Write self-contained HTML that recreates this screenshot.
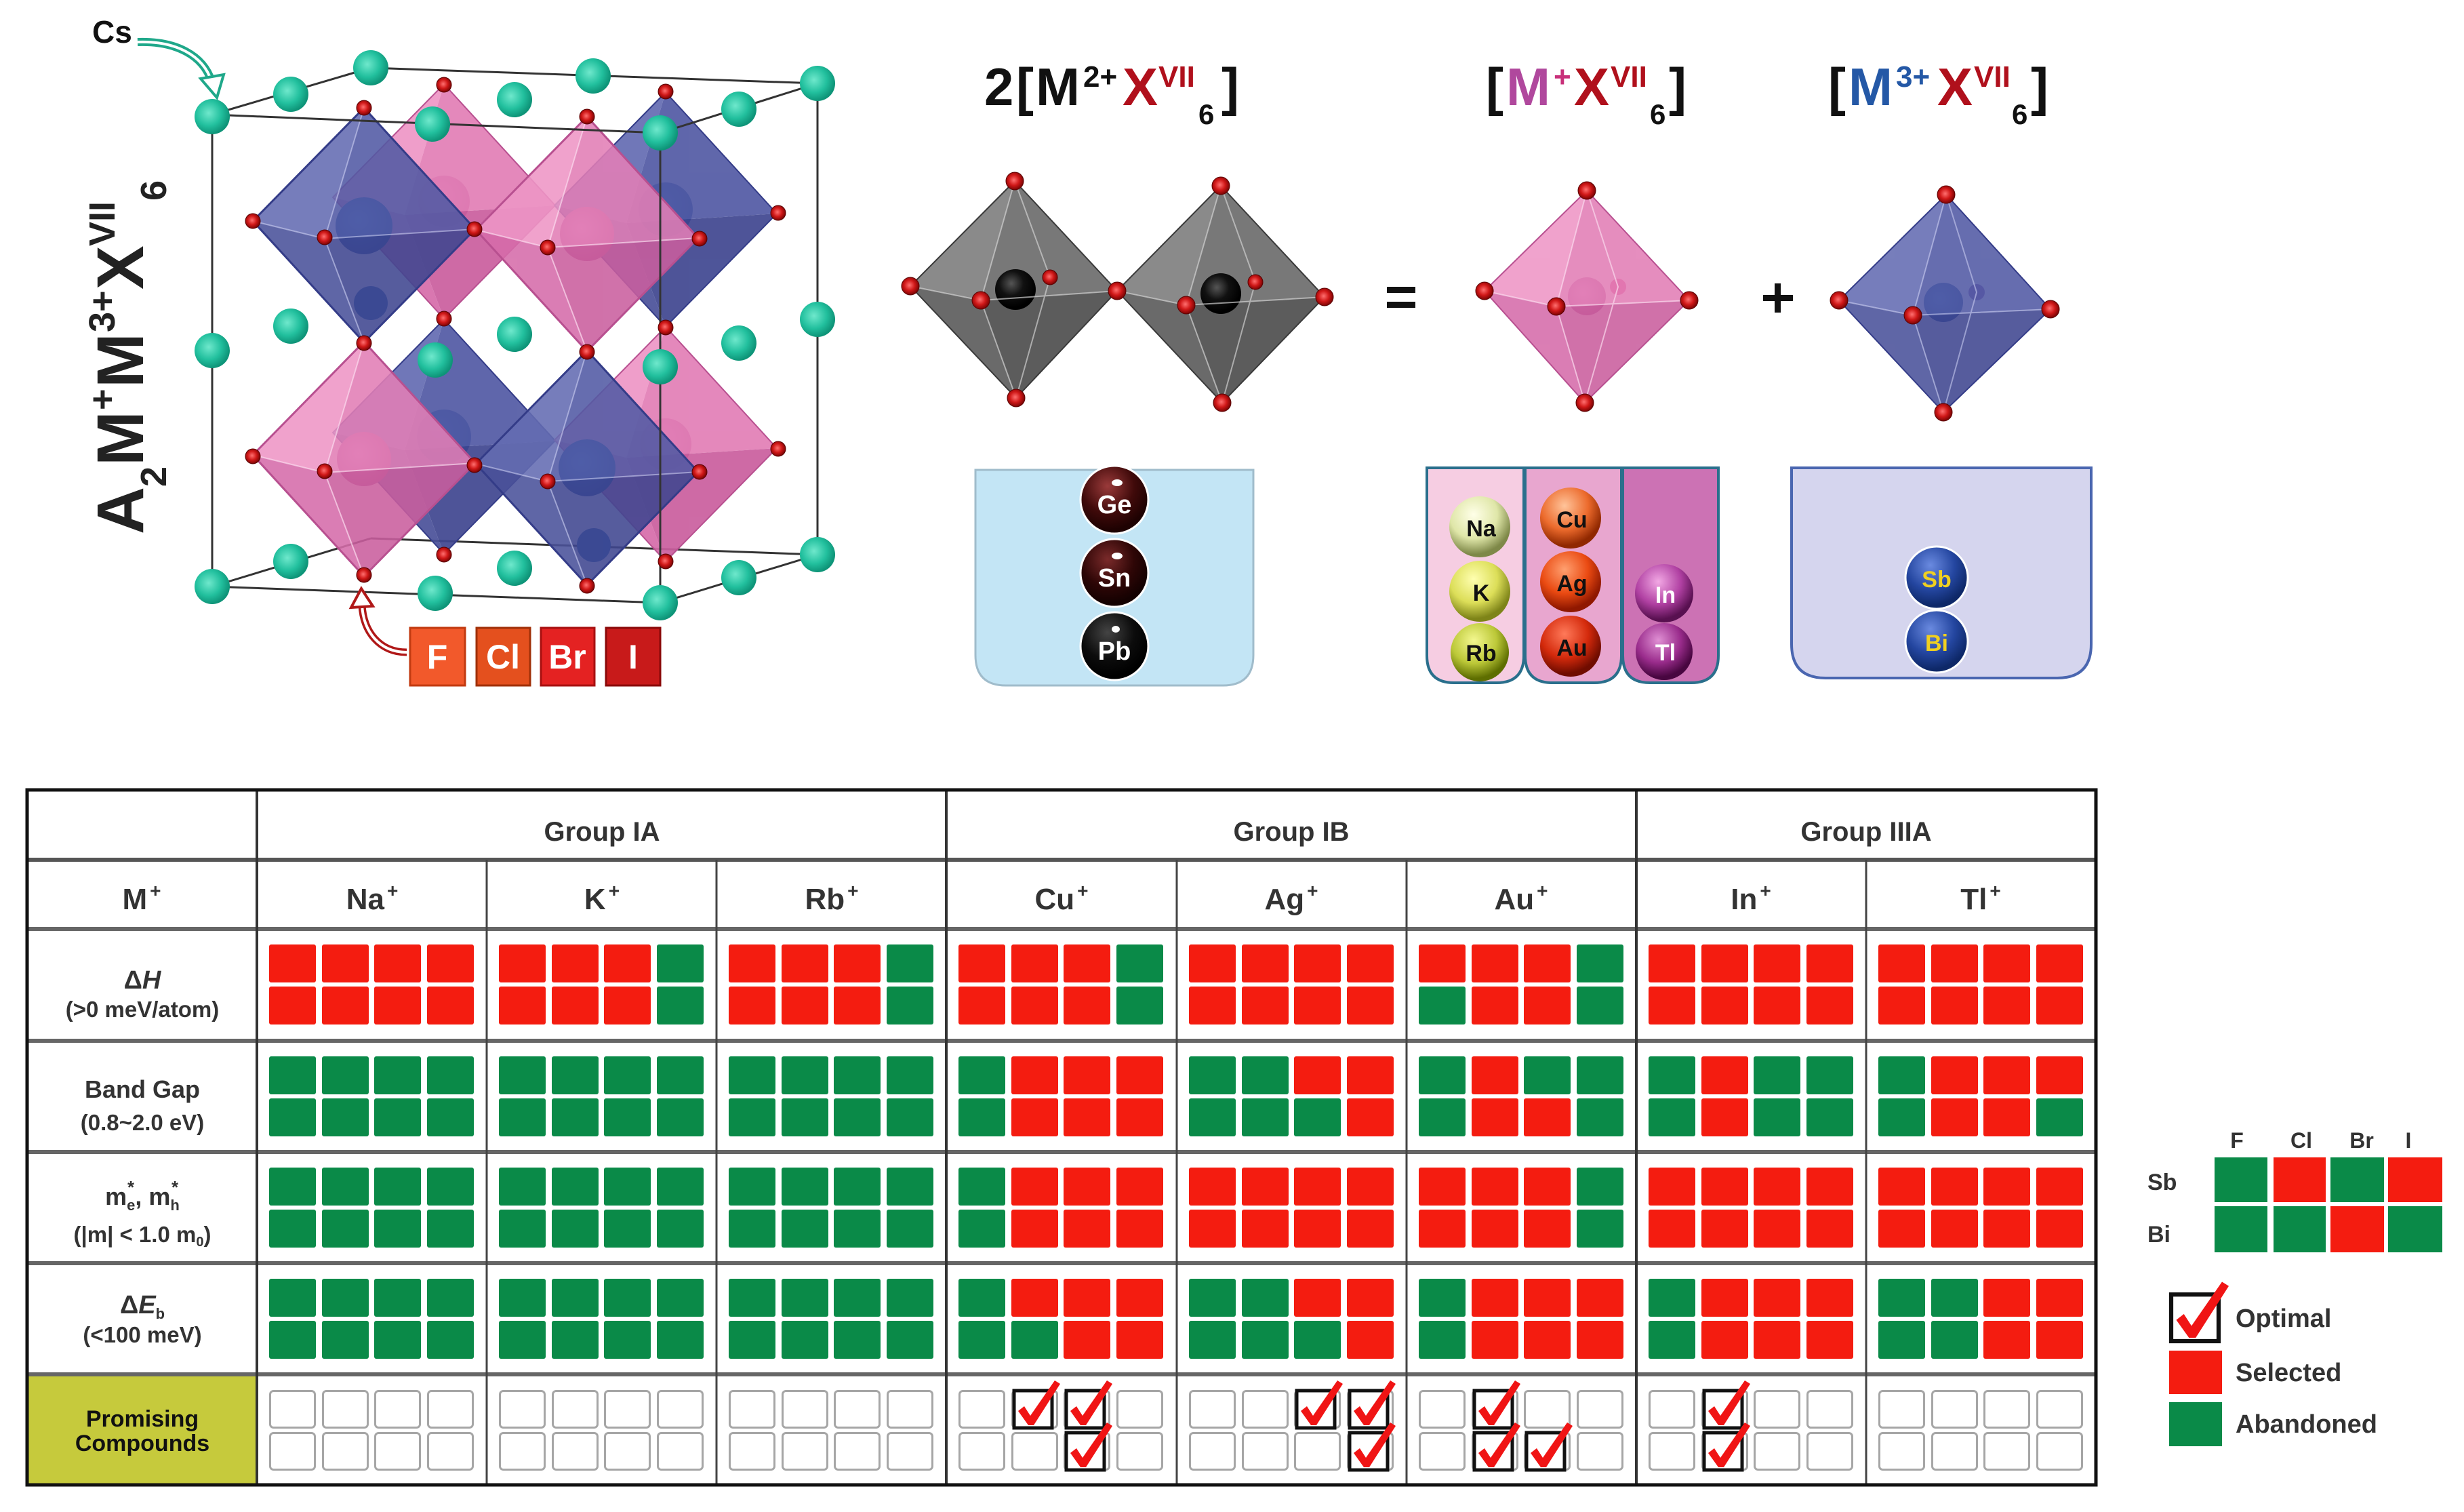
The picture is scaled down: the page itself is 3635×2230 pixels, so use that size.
<!DOCTYPE html>
<html><head><meta charset="utf-8"><style>
html,body{margin:0;padding:0;background:#fff;}
svg{display:block;}
</style></head><body>
<svg xmlns="http://www.w3.org/2000/svg" width="3635" height="2230" viewBox="0 0 3635 2230" font-family="'Liberation Sans', Arial, sans-serif">
<defs>
<radialGradient id="gTeal" cx="40%" cy="40%" r="60%"><stop offset="0" stop-color="#6fe8cc"/><stop offset="0.6" stop-color="#22c09e"/><stop offset="1" stop-color="#0e9478"/></radialGradient>
<radialGradient id="gRed" cx="45%" cy="45%" r="60%"><stop offset="0" stop-color="#ff7070"/><stop offset="0.5" stop-color="#d01818"/><stop offset="1" stop-color="#6a0000"/></radialGradient>
<radialGradient id="gBlueS" cx="40%" cy="40%" r="60%"><stop offset="0" stop-color="#3a78c8"/><stop offset="1" stop-color="#1a4a98"/></radialGradient>
<radialGradient id="gPinkS" cx="40%" cy="40%" r="60%"><stop offset="0" stop-color="#e490c8"/><stop offset="1" stop-color="#b0508e"/></radialGradient>
<radialGradient id="gBlack" cx="40%" cy="35%" r="60%"><stop offset="0" stop-color="#555"/><stop offset="0.5" stop-color="#111"/><stop offset="1" stop-color="#000"/></radialGradient>
<radialGradient id="gGe" cx="40%" cy="30%" r="65%"><stop offset="0" stop-color="#9a3a3a"/><stop offset="0.6" stop-color="#400a0a"/><stop offset="1" stop-color="#1e0202"/></radialGradient>
<radialGradient id="gSn" cx="40%" cy="30%" r="65%"><stop offset="0" stop-color="#7a2a2a"/><stop offset="0.6" stop-color="#2e0606"/><stop offset="1" stop-color="#140101"/></radialGradient>
<radialGradient id="gPb" cx="40%" cy="30%" r="65%"><stop offset="0" stop-color="#444"/><stop offset="0.6" stop-color="#0c0c0c"/><stop offset="1" stop-color="#000"/></radialGradient>
<radialGradient id="gNa" cx="40%" cy="30%" r="65%"><stop offset="0" stop-color="#ffffe8"/><stop offset="0.6" stop-color="#dfe6a8"/><stop offset="1" stop-color="#7e8848"/></radialGradient>
<radialGradient id="gK" cx="40%" cy="30%" r="65%"><stop offset="0" stop-color="#ffffb0"/><stop offset="0.6" stop-color="#dcde58"/><stop offset="1" stop-color="#7e8418"/></radialGradient>
<radialGradient id="gRb" cx="40%" cy="30%" r="65%"><stop offset="0" stop-color="#f4f890"/><stop offset="0.6" stop-color="#bcc838"/><stop offset="1" stop-color="#5e6e00"/></radialGradient>
<radialGradient id="gCu" cx="40%" cy="30%" r="65%"><stop offset="0" stop-color="#ffc49a"/><stop offset="0.6" stop-color="#ec6a2c"/><stop offset="1" stop-color="#902800"/></radialGradient>
<radialGradient id="gAg" cx="40%" cy="30%" r="65%"><stop offset="0" stop-color="#ffa070"/><stop offset="0.6" stop-color="#ea4a12"/><stop offset="1" stop-color="#901800"/></radialGradient>
<radialGradient id="gAu" cx="40%" cy="30%" r="65%"><stop offset="0" stop-color="#ff7a5a"/><stop offset="0.6" stop-color="#d42a0c"/><stop offset="1" stop-color="#700c00"/></radialGradient>
<radialGradient id="gIn" cx="40%" cy="30%" r="65%"><stop offset="0" stop-color="#f2a8e4"/><stop offset="0.6" stop-color="#b040a2"/><stop offset="1" stop-color="#581050"/></radialGradient>
<radialGradient id="gTl" cx="40%" cy="30%" r="65%"><stop offset="0" stop-color="#e090d4"/><stop offset="0.6" stop-color="#9a2c8c"/><stop offset="1" stop-color="#480640"/></radialGradient>
<radialGradient id="gSb" cx="40%" cy="30%" r="65%"><stop offset="0" stop-color="#6a8ae0"/><stop offset="0.6" stop-color="#2446a0"/><stop offset="1" stop-color="#0e2868"/></radialGradient>

<rect id="R" width="69" height="56" rx="3" fill="#f41c10"/>
<rect id="G" width="69" height="56" rx="3" fill="#0a8a48"/>
<rect id="E" x="1.5" y="1.5" width="66" height="54" rx="5" fill="#fff" stroke="#a6a6a6" stroke-width="3"/>
<g id="ck"><rect x="4" y="1" width="56" height="55" fill="#fff" stroke="#111" stroke-width="5"/><polygon points="10,31 19,24 28,38 64,-14 72,-9 33,52 25,52" fill="#f01414"/></g>

<g id="AR"><use href="#R" x="18" y="23"/><use href="#R" x="96" y="23"/><use href="#R" x="173" y="23"/><use href="#R" x="251" y="23"/><use href="#R" x="18" y="85"/><use href="#R" x="96" y="85"/><use href="#R" x="173" y="85"/><use href="#R" x="251" y="85"/></g>
<g id="AG"><use href="#G" x="18" y="23"/><use href="#G" x="96" y="23"/><use href="#G" x="173" y="23"/><use href="#G" x="251" y="23"/><use href="#G" x="18" y="85"/><use href="#G" x="96" y="85"/><use href="#G" x="173" y="85"/><use href="#G" x="251" y="85"/></g>
<g id="AE"><use href="#E" x="18" y="23"/><use href="#E" x="96" y="23"/><use href="#E" x="173" y="23"/><use href="#E" x="251" y="23"/><use href="#E" x="18" y="85"/><use href="#E" x="96" y="85"/><use href="#E" x="173" y="85"/><use href="#E" x="251" y="85"/></g>
<g id="P1"><use href="#R" x="18" y="23"/><use href="#R" x="96" y="23"/><use href="#R" x="173" y="23"/><use href="#G" x="251" y="23"/><use href="#R" x="18" y="85"/><use href="#R" x="96" y="85"/><use href="#R" x="173" y="85"/><use href="#G" x="251" y="85"/></g>
<g id="P2"><use href="#R" x="18" y="23"/><use href="#R" x="96" y="23"/><use href="#R" x="173" y="23"/><use href="#G" x="251" y="23"/><use href="#G" x="18" y="85"/><use href="#R" x="96" y="85"/><use href="#R" x="173" y="85"/><use href="#G" x="251" y="85"/></g>
<g id="P3"><use href="#G" x="18" y="23"/><use href="#R" x="96" y="23"/><use href="#R" x="173" y="23"/><use href="#R" x="251" y="23"/><use href="#G" x="18" y="85"/><use href="#R" x="96" y="85"/><use href="#R" x="173" y="85"/><use href="#R" x="251" y="85"/></g>
<g id="P4"><use href="#G" x="18" y="23"/><use href="#G" x="96" y="23"/><use href="#R" x="173" y="23"/><use href="#R" x="251" y="23"/><use href="#G" x="18" y="85"/><use href="#G" x="96" y="85"/><use href="#G" x="173" y="85"/><use href="#R" x="251" y="85"/></g>
<g id="P5"><use href="#G" x="18" y="23"/><use href="#R" x="96" y="23"/><use href="#G" x="173" y="23"/><use href="#G" x="251" y="23"/><use href="#G" x="18" y="85"/><use href="#R" x="96" y="85"/><use href="#R" x="173" y="85"/><use href="#G" x="251" y="85"/></g>
<g id="P6"><use href="#G" x="18" y="23"/><use href="#R" x="96" y="23"/><use href="#G" x="173" y="23"/><use href="#G" x="251" y="23"/><use href="#G" x="18" y="85"/><use href="#R" x="96" y="85"/><use href="#G" x="173" y="85"/><use href="#G" x="251" y="85"/></g>
<g id="P7"><use href="#G" x="18" y="23"/><use href="#R" x="96" y="23"/><use href="#R" x="173" y="23"/><use href="#R" x="251" y="23"/><use href="#G" x="18" y="85"/><use href="#R" x="96" y="85"/><use href="#R" x="173" y="85"/><use href="#G" x="251" y="85"/></g>
<g id="P8"><use href="#G" x="18" y="23"/><use href="#R" x="96" y="23"/><use href="#R" x="173" y="23"/><use href="#R" x="251" y="23"/><use href="#G" x="18" y="85"/><use href="#G" x="96" y="85"/><use href="#R" x="173" y="85"/><use href="#R" x="251" y="85"/></g>
<g id="P9"><use href="#G" x="18" y="23"/><use href="#G" x="96" y="23"/><use href="#R" x="173" y="23"/><use href="#R" x="251" y="23"/><use href="#G" x="18" y="85"/><use href="#G" x="96" y="85"/><use href="#R" x="173" y="85"/><use href="#R" x="251" y="85"/></g>
</defs>

<rect width="3635" height="2230" fill="#fff"/>

<!-- ================= CRYSTAL STRUCTURE ================= -->
<g stroke="#333" stroke-width="3" fill="none">
<line x1="547" y1="794" x2="1206" y2="818"/>
<line x1="313" y1="865" x2="547" y2="794"/>
</g>

<!-- back octahedra -->
<g>
<circle cx="655" cy="297" r="38" fill="url(#gPinkS)"/>
<g opacity="0.92"><polygon points="655,124 491,291 597,317" fill="#ee96c6"/><polygon points="655,124 597,317 819,303" fill="#e27eb6"/><polygon points="655,470 491,291 597,317" fill="#d66caa"/><polygon points="655,470 597,317 819,303" fill="#ca5e9e"/></g>
<polygon points="655,124 819,303 655,470 491,291" fill="none" stroke="#b85090" stroke-width="2"/>
</g>
<g>
<circle cx="982" cy="309" r="40" fill="url(#gBlueS)"/>
<g opacity="0.92"><polygon points="982,136 818,303 924,329" fill="#646cb2"/><polygon points="982,136 924,329 1146,315" fill="#525aa4"/><polygon points="982,482 818,303 924,329" fill="#4a519a"/><polygon points="982,482 924,329 1146,315" fill="#3f4690"/></g>
<polygon points="982,136 1146,315 982,482 818,303" fill="none" stroke="#343c88" stroke-width="2"/>
</g>
<g>
<circle cx="655" cy="644" r="40" fill="url(#gBlueS)"/>
<g opacity="0.92"><polygon points="655,471 491,638 597,664" fill="#646cb2"/><polygon points="655,471 597,664 819,650" fill="#525aa4"/><polygon points="655,817 491,638 597,664" fill="#4a519a"/><polygon points="655,817 597,664 819,650" fill="#3f4690"/></g>
<polygon points="655,471 819,650 655,817 491,638" fill="none" stroke="#343c88" stroke-width="2"/>
</g>
<g>
<circle cx="982" cy="655" r="38" fill="url(#gPinkS)"/>
<g opacity="0.92"><polygon points="982,482 818,649 924,675" fill="#ee96c6"/><polygon points="982,482 924,675 1146,661" fill="#e27eb6"/><polygon points="982,828 818,649 924,675" fill="#d66caa"/><polygon points="982,828 924,675 1146,661" fill="#ca5e9e"/></g>
<polygon points="982,482 1146,661 982,828 818,649" fill="none" stroke="#b85090" stroke-width="2"/>
</g>

<!-- front octahedra -->
<g>
<circle cx="537" cy="333" r="42" fill="url(#gBlueS)"/>
<circle cx="547" cy="447" r="25" fill="#1e64b0"/>
<g opacity="0.88"><polygon points="537,159 373,326 479,352" fill="#646cb2"/><polygon points="537,159 479,352 701,338" fill="#525aa4"/><polygon points="537,505 373,326 479,352" fill="#4a519a"/><polygon points="537,505 479,352 701,338" fill="#3f4690"/></g>
<polygon points="537,159 701,338 537,505 373,326" fill="none" stroke="#343c88" stroke-width="3"/>
<path d="M537,159 L479,352 L537,505 M373,326 L479,352 L701,338" stroke="#c8ccf0" stroke-opacity="0.6" stroke-width="2" fill="none"/>
</g>
<g>
<circle cx="866" cy="345" r="40" fill="url(#gPinkS)"/>
<g opacity="0.88"><polygon points="866,172 702,339 808,365" fill="#ee96c6"/><polygon points="866,172 808,365 1030,351" fill="#e27eb6"/><polygon points="866,518 702,339 808,365" fill="#d66caa"/><polygon points="866,518 808,365 1030,351" fill="#ca5e9e"/></g>
<polygon points="866,172 1030,351 866,518 702,339" fill="none" stroke="#b85090" stroke-width="3"/>
<path d="M866,172 L808,365 L866,518 M702,339 L808,365 L1030,351" stroke="#fbd8ec" stroke-opacity="0.7" stroke-width="2" fill="none"/>
</g>
<g>
<circle cx="537" cy="677" r="40" fill="url(#gPinkS)"/>
<g opacity="0.88"><polygon points="537,504 373,671 479,697" fill="#ee96c6"/><polygon points="537,504 479,697 701,683" fill="#e27eb6"/><polygon points="537,850 373,671 479,697" fill="#d66caa"/><polygon points="537,850 479,697 701,683" fill="#ca5e9e"/></g>
<polygon points="537,504 701,683 537,850 373,671" fill="none" stroke="#b85090" stroke-width="3"/>
<path d="M537,504 L479,697 L537,850 M373,671 L479,697 L701,683" stroke="#fbd8ec" stroke-opacity="0.7" stroke-width="2" fill="none"/>
</g>
<g>
<circle cx="866" cy="690" r="42" fill="url(#gBlueS)"/>
<circle cx="876" cy="804" r="25" fill="#1e64b0"/>
<g opacity="0.88"><polygon points="866,517 702,684 808,710" fill="#646cb2"/><polygon points="866,517 808,710 1030,696" fill="#525aa4"/><polygon points="866,863 702,684 808,710" fill="#4a519a"/><polygon points="866,863 808,710 1030,696" fill="#3f4690"/></g>
<polygon points="866,517 1030,696 866,863 702,684" fill="none" stroke="#343c88" stroke-width="3"/>
<path d="M866,517 L808,710 L866,863 M702,684 L808,710 L1030,696" stroke="#c8ccf0" stroke-opacity="0.6" stroke-width="2" fill="none"/>
</g>

<!-- frame lines front -->
<g stroke="#333" stroke-width="3" fill="none">
<line x1="313" y1="169" x2="313" y2="865"/>
<line x1="313" y1="169" x2="974" y2="196"/>
<line x1="547" y1="100" x2="1206" y2="123"/>
<line x1="313" y1="169" x2="547" y2="100"/>
<line x1="974" y1="196" x2="1206" y2="123"/>
<line x1="974" y1="196" x2="974" y2="889"/>
<line x1="1206" y1="123" x2="1206" y2="818"/>
<line x1="313" y1="865" x2="974" y2="889"/>
<line x1="974" y1="889" x2="1206" y2="818"/>
</g>

<!-- X spheres -->
<g fill="url(#gRed)" stroke="#5a0000" stroke-width="1">
<circle cx="537" cy="159" r="11"/><circle cx="655" cy="125" r="11"/><circle cx="866" cy="172" r="11"/><circle cx="982" cy="135" r="11"/>
<circle cx="373" cy="326" r="11"/><circle cx="479" cy="350" r="11"/><circle cx="700" cy="338" r="11"/><circle cx="808" cy="365" r="11"/><circle cx="1032" cy="352" r="11"/><circle cx="1148" cy="314" r="11"/>
<circle cx="537" cy="506" r="11"/><circle cx="655" cy="470" r="11"/><circle cx="866" cy="519" r="11"/><circle cx="982" cy="483" r="11"/>
<circle cx="373" cy="673" r="11"/><circle cx="479" cy="695" r="11"/><circle cx="700" cy="686" r="11"/><circle cx="808" cy="710" r="11"/><circle cx="1032" cy="696" r="11"/><circle cx="1148" cy="662" r="11"/>
<circle cx="537" cy="848" r="11"/><circle cx="655" cy="818" r="11"/><circle cx="866" cy="864" r="11"/><circle cx="982" cy="828" r="11"/>
</g>

<!-- Cs spheres -->
<g fill="url(#gTeal)">
<circle cx="313" cy="172" r="26"/><circle cx="429" cy="139" r="26"/><circle cx="547" cy="100" r="26"/><circle cx="638" cy="183" r="26"/><circle cx="759" cy="147" r="26"/><circle cx="875" cy="112" r="26"/><circle cx="974" cy="196" r="26"/><circle cx="1090" cy="161" r="26"/><circle cx="1206" cy="123" r="26"/>
<circle cx="313" cy="517" r="26"/><circle cx="429" cy="481" r="26"/><circle cx="642" cy="531" r="26"/><circle cx="759" cy="493" r="26"/><circle cx="974" cy="541" r="26"/><circle cx="1090" cy="506" r="26"/><circle cx="1206" cy="471" r="26"/>
<circle cx="313" cy="865" r="26"/><circle cx="429" cy="828" r="26"/><circle cx="642" cy="875" r="26"/><circle cx="759" cy="838" r="26"/><circle cx="974" cy="889" r="26"/><circle cx="1090" cy="852" r="26"/><circle cx="1206" cy="818" r="26"/>
</g>

<!-- Cs label and arrow -->
<text x="136" y="63" font-size="46" font-weight="bold" fill="#111">Cs</text>
<path d="M203,62 C260,60 300,82 312,120" stroke="#1fa88a" stroke-width="12" fill="none"/>
<path d="M203,62 C260,60 300,82 312,120" stroke="#fff" stroke-width="4" fill="none"/>
<polygon points="296,116 330,110 320,144" fill="#fff" stroke="#1fa88a" stroke-width="4"/>

<!-- halide boxes and arrow -->
<path d="M600,962 C560,962 536,932 534,892" stroke="#b01818" stroke-width="11" fill="none"/>
<path d="M600,962 C560,962 536,932 534,892" stroke="#fff" stroke-width="4" fill="none"/>
<polygon points="518,896 550,894 533,868" fill="#fff" stroke="#b01818" stroke-width="4"/>
<rect x="605" y="926" width="81" height="85" fill="#f2592b" stroke="#c23a10" stroke-width="3"/>
<rect x="703" y="926" width="79" height="85" fill="#e4501e" stroke="#a03008" stroke-width="3"/>
<rect x="798" y="926" width="79" height="85" fill="#e42222" stroke="#a81010" stroke-width="3"/>
<rect x="894" y="926" width="80" height="85" fill="#c81a1a" stroke="#8a0a0a" stroke-width="3"/>
<g font-size="50" font-weight="bold" fill="#fff" text-anchor="middle">
<text x="645" y="986">F</text><text x="742" y="986">Cl</text><text x="837" y="986">Br</text><text x="934" y="986">I</text>
</g>

<!-- left formula rotated -->
<text transform="translate(211,788) rotate(-90)" font-size="97" font-weight="bold" fill="#222"><tspan x="0" y="0">A</tspan><tspan x="70" y="34" font-size="54">2</tspan><tspan x="101" y="0">M</tspan><tspan x="183" y="-42" font-size="54">+</tspan><tspan x="216" y="0">M</tspan><tspan x="298" y="-42" font-size="54">3+</tspan><tspan x="361" y="0">X</tspan><tspan x="425" y="-42" font-size="54">VII</tspan><tspan x="492" y="34" font-size="54">6</tspan></text>

<!-- ================= TITLES ================= -->
<g font-size="78" font-weight="bold" fill="#111">
<text y="155"><tspan x="1452">2</tspan><tspan x="1499">[</tspan><tspan x="1528">M</tspan><tspan x="1598" y="128" font-size="44">2+</tspan><tspan x="1656" y="155" fill="#b0101c">X</tspan><tspan x="1709" y="128" font-size="44" fill="#b0101c">VII</tspan><tspan x="1768" y="183" font-size="42">6</tspan><tspan x="1802" y="155">]</tspan></text>
<text y="155"><tspan x="2192">[</tspan><tspan x="2222" fill="#b0489d">M</tspan><tspan x="2292" y="128" font-size="44" fill="#c8307a">+</tspan><tspan x="2322" y="155" fill="#b0101c">X</tspan><tspan x="2376" y="128" font-size="44" fill="#b0101c">VII</tspan><tspan x="2434" y="183" font-size="42">6</tspan><tspan x="2462" y="155">]</tspan></text>
<text y="155"><tspan x="2697">[</tspan><tspan x="2727" fill="#2458a6">M</tspan><tspan x="2797" y="128" font-size="44" fill="#2458a6">3+</tspan><tspan x="2858" y="155" fill="#b0101c">X</tspan><tspan x="2912" y="128" font-size="44" fill="#b0101c">VII</tspan><tspan x="2968" y="183" font-size="42">6</tspan><tspan x="2996" y="155">]</tspan></text>
</g>

<!-- ================= GRAY OCTAHEDRA ================= -->
<g>
<polygon points="1497,267 1343,422 1447,443" fill="#8a8a8a"/><polygon points="1497,267 1447,443 1648,429" fill="#787878"/><polygon points="1499,587 1343,422 1447,443" fill="#6a6a6a"/><polygon points="1499,587 1447,443 1648,429" fill="#5c5c5c"/>
<polygon points="1497,267 1648,429 1499,587 1343,422" fill="none" stroke="#3a3a3a" stroke-width="2"/>
<circle cx="1498" cy="427" r="30" fill="url(#gBlack)"/>
<path d="M1497,267 L1447,443 L1499,587 M1343,422 L1447,443 L1648,429 M1497,267 L1549,409 L1499,587" stroke="#cfcfcf" stroke-opacity="0.7" stroke-width="2" fill="none"/>
</g>
<g>
<polygon points="1801,274 1648,429 1750,450" fill="#8a8a8a"/><polygon points="1801,274 1750,450 1954,438" fill="#787878"/><polygon points="1803,594 1648,429 1750,450" fill="#6a6a6a"/><polygon points="1803,594 1750,450 1954,438" fill="#5c5c5c"/>
<polygon points="1801,274 1954,438 1803,594 1648,429" fill="none" stroke="#3a3a3a" stroke-width="2"/>
<circle cx="1801" cy="433" r="30" fill="url(#gBlack)"/>
<path d="M1801,274 L1750,450 L1803,594 M1648,429 L1750,450 L1954,438 M1801,274 L1852,416 L1803,594" stroke="#cfcfcf" stroke-opacity="0.7" stroke-width="2" fill="none"/>
</g>
<g fill="url(#gRed)" stroke="#5a0000" stroke-width="1">
<circle cx="1497" cy="267" r="13"/><circle cx="1499" cy="587" r="13"/><circle cx="1343" cy="422" r="13"/><circle cx="1648" cy="429" r="13"/><circle cx="1447" cy="443" r="13"/><circle cx="1549" cy="409" r="11"/>
<circle cx="1801" cy="274" r="13"/><circle cx="1803" cy="594" r="13"/><circle cx="1954" cy="438" r="13"/><circle cx="1750" cy="450" r="13"/><circle cx="1852" cy="416" r="11"/>
</g>

<!-- = and + -->
<rect x="2046" y="423" width="42" height="9" fill="#111"/><rect x="2046" y="445" width="42" height="9" fill="#111"/>
<rect x="2601" y="435" width="44" height="9" fill="#111"/><rect x="2618" y="418" width="9" height="43" fill="#111"/>

<!-- pink single -->
<g>
<circle cx="2341" cy="437" r="28" fill="url(#gPinkS)"/>
<circle cx="2387" cy="423" r="12" fill="#e23c8c"/>
<g opacity="0.88"><polygon points="2341,281 2190,429 2296,452" fill="#ee96c6"/><polygon points="2341,281 2296,452 2492,443" fill="#e27eb6"/><polygon points="2338,594 2190,429 2296,452" fill="#d66caa"/><polygon points="2338,594 2296,452 2492,443" fill="#ca5e9e"/></g>
<polygon points="2341,281 2492,443 2338,594 2190,429" fill="none" stroke="#b85090" stroke-width="2"/>
<path d="M2341,281 L2296,452 L2338,594 M2190,429 L2296,452 L2492,443 M2341,281 L2387,423 L2338,594" stroke="#fbd8ec" stroke-opacity="0.7" stroke-width="2" fill="none"/>
</g>
<!-- blue single -->
<g>
<circle cx="2867" cy="446" r="29" fill="url(#gBlueS)"/>
<circle cx="2916" cy="431" r="12" fill="#7a4aa8"/>
<g opacity="0.88"><polygon points="2871,287 2713,443 2822,465" fill="#646cb2"/><polygon points="2871,287 2822,465 3025,456" fill="#525aa4"/><polygon points="2867,608 2713,443 2822,465" fill="#4a519a"/><polygon points="2867,608 2822,465 3025,456" fill="#3f4690"/></g>
<polygon points="2871,287 3025,456 2867,608 2713,443" fill="none" stroke="#343c88" stroke-width="2"/>
<path d="M2871,287 L2822,465 L2867,608 M2713,443 L2822,465 L3025,456 M2871,287 L2916,431 L2867,608" stroke="#c8ccf0" stroke-opacity="0.6" stroke-width="2" fill="none"/>
</g>
<g fill="url(#gRed)" stroke="#5a0000" stroke-width="1">
<circle cx="2341" cy="281" r="13"/><circle cx="2338" cy="594" r="13"/><circle cx="2190" cy="429" r="13"/><circle cx="2492" cy="443" r="13"/><circle cx="2296" cy="452" r="13"/>
<circle cx="2871" cy="287" r="13"/><circle cx="2867" cy="608" r="13"/><circle cx="2713" cy="443" r="13"/><circle cx="3025" cy="456" r="13"/><circle cx="2822" cy="465" r="13"/>
</g>

<!-- ================= BOXES ================= -->
<path d="M1439,693 H1849 V966 Q1849,1011 1804,1011 H1484 Q1439,1011 1439,966 Z" fill="#c3e5f5" stroke="#a0bccb" stroke-width="3"/>
<g stroke="#fff" stroke-width="3">
<circle cx="1644" cy="737" r="50" fill="url(#gGe)"/>
<circle cx="1644" cy="845" r="50" fill="url(#gSn)"/>
<circle cx="1644" cy="953" r="50" fill="url(#gPb)"/>
</g>
<g fill="#fff"><ellipse cx="1648" cy="712" rx="8" ry="5"/><ellipse cx="1648" cy="820" rx="8" ry="5"/><ellipse cx="1646" cy="928" rx="6" ry="5"/></g>
<g font-size="38" font-weight="bold" fill="#fff" text-anchor="middle">
<text x="1644" y="757">Ge</text><text x="1644" y="865">Sn</text><text x="1644" y="973">Pb</text>
</g>

<path d="M2105,690 V967 Q2105,1007 2145,1007 H2208 Q2248,1007 2248,967 V690 Z" fill="#f6cde2" stroke="#2a6f8c" stroke-width="4"/>
<path d="M2250,690 V967 Q2250,1007 2290,1007 H2352 Q2392,1007 2392,967 V690 Z" fill="#e8a6cf" stroke="#2a6f8c" stroke-width="4"/>
<path d="M2394,690 V967 Q2394,1007 2434,1007 H2495 Q2535,1007 2535,967 V690 Z" fill="#cc72b4" stroke="#2a6f8c" stroke-width="4"/>
<g>
<circle cx="2183" cy="777" r="45" fill="url(#gNa)"/><circle cx="2183" cy="872" r="45" fill="url(#gK)"/><circle cx="2183" cy="962" r="43" fill="url(#gRb)"/>
<circle cx="2317" cy="764" r="45" fill="url(#gCu)"/><circle cx="2317" cy="858" r="45" fill="url(#gAg)"/><circle cx="2317" cy="953" r="45" fill="url(#gAu)"/>
<circle cx="2455" cy="875" r="43" fill="url(#gIn)"/><circle cx="2455" cy="961" r="42" fill="url(#gTl)"/>
</g>
<g font-size="34" font-weight="bold" fill="#111" text-anchor="middle">
<text x="2185" y="791">Na</text><text x="2185" y="886">K</text><text x="2185" y="975">Rb</text>
<text x="2319" y="778">Cu</text><text x="2319" y="872">Ag</text><text x="2319" y="967">Au</text>
</g>
<g font-size="34" font-weight="bold" fill="#fff" text-anchor="middle">
<text x="2457" y="889">In</text><text x="2457" y="974">Tl</text>
</g>

<path d="M2643,690 H3085 V950 Q3085,1000 3035,1000 H2693 Q2643,1000 2643,950 Z" fill="#d5d5ee" stroke="#4a66b0" stroke-width="4"/>
<g stroke="#fff" stroke-width="3">
<circle cx="2857" cy="852" r="46" fill="url(#gSb)"/>
<circle cx="2857" cy="946" r="46" fill="url(#gSb)"/>
</g>
<g font-size="34" font-weight="bold" fill="#f0d020" text-anchor="middle">
<text x="2857" y="866">Sb</text><text x="2857" y="960">Bi</text>
</g>

<!-- ================= TABLE ================= -->
<rect x="40" y="2027" width="339" height="163" fill="#c6ca3c"/>

<use href="#AR" x="379" y="1370"/><use href="#P1" x="718" y="1370"/><use href="#P1" x="1057" y="1370"/><use href="#P1" x="1396" y="1370"/><use href="#AR" x="1736" y="1370"/><use href="#P2" x="2075" y="1370"/><use href="#AR" x="2414" y="1370"/><use href="#AR" x="2753" y="1370"/>
<use href="#AG" x="379" y="1535"/><use href="#AG" x="718" y="1535"/><use href="#AG" x="1057" y="1535"/><use href="#P3" x="1396" y="1535"/><use href="#P4" x="1736" y="1535"/><use href="#P5" x="2075" y="1535"/><use href="#P6" x="2414" y="1535"/><use href="#P7" x="2753" y="1535"/>
<use href="#AG" x="379" y="1699"/><use href="#AG" x="718" y="1699"/><use href="#AG" x="1057" y="1699"/><use href="#P3" x="1396" y="1699"/><use href="#AR" x="1736" y="1699"/><use href="#P1" x="2075" y="1699"/><use href="#AR" x="2414" y="1699"/><use href="#AR" x="2753" y="1699"/>
<use href="#AG" x="379" y="1863"/><use href="#AG" x="718" y="1863"/><use href="#AG" x="1057" y="1863"/><use href="#P8" x="1396" y="1863"/><use href="#P4" x="1736" y="1863"/><use href="#P3" x="2075" y="1863"/><use href="#P3" x="2414" y="1863"/><use href="#P9" x="2753" y="1863"/>
<use href="#AE" x="379" y="2027"/><use href="#AE" x="718" y="2027"/><use href="#AE" x="1057" y="2027"/><use href="#AE" x="1396" y="2027"/><use href="#AE" x="1736" y="2027"/><use href="#AE" x="2075" y="2027"/><use href="#AE" x="2414" y="2027"/><use href="#AE" x="2753" y="2027"/>
<use href="#ck" x="1492" y="2050"/><use href="#ck" x="1569" y="2050"/><use href="#ck" x="1569" y="2112"/>
<use href="#ck" x="1909" y="2050"/><use href="#ck" x="1987" y="2050"/><use href="#ck" x="1987" y="2112"/>
<use href="#ck" x="2171" y="2050"/><use href="#ck" x="2171" y="2112"/><use href="#ck" x="2248" y="2112"/>
<use href="#ck" x="2510" y="2050"/><use href="#ck" x="2510" y="2112"/>

<g stroke="#666" stroke-width="6">
<line x1="40" y1="1268" x2="3092" y2="1268" stroke="#555"/>
<line x1="40" y1="1370" x2="3092" y2="1370"/>
<line x1="40" y1="1535" x2="3092" y2="1535"/>
<line x1="40" y1="1699" x2="3092" y2="1699"/>
<line x1="40" y1="1863" x2="3092" y2="1863"/>
<line x1="40" y1="2027" x2="3092" y2="2027"/>
</g>
<g stroke="#444" stroke-width="3">
<line x1="718" y1="1268" x2="718" y2="2190"/><line x1="1057" y1="1268" x2="1057" y2="2190"/><line x1="1736" y1="1268" x2="1736" y2="2190"/><line x1="2075" y1="1268" x2="2075" y2="2190"/><line x1="2753" y1="1268" x2="2753" y2="2190"/>
</g>
<g stroke="#333" stroke-width="4">
<line x1="379" y1="1165" x2="379" y2="2190"/><line x1="1396" y1="1165" x2="1396" y2="2190"/><line x1="2414" y1="1165" x2="2414" y2="2190"/>
</g>
<rect x="40" y="1165" width="3052" height="1025" fill="none" stroke="#111" stroke-width="5"/>

<g font-size="40" font-weight="bold" fill="#333" text-anchor="middle">
<text x="888" y="1240">Group IA</text><text x="1905" y="1240">Group IB</text><text x="2753" y="1240">Group IIIA</text>
</g>
<g font-size="44" font-weight="bold" fill="#333" text-anchor="middle">
<text x="209" y="1341">M<tspan dx="4" dy="-18" font-size="28">+</tspan></text>
<text x="549" y="1341">Na<tspan dx="4" dy="-18" font-size="28">+</tspan></text>
<text x="888" y="1341">K<tspan dx="4" dy="-18" font-size="28">+</tspan></text>
<text x="1227" y="1341">Rb<tspan dx="4" dy="-18" font-size="28">+</tspan></text>
<text x="1566" y="1341">Cu<tspan dx="4" dy="-18" font-size="28">+</tspan></text>
<text x="1905" y="1341">Ag<tspan dx="4" dy="-18" font-size="28">+</tspan></text>
<text x="2244" y="1341">Au<tspan dx="4" dy="-18" font-size="28">+</tspan></text>
<text x="2583" y="1341">In<tspan dx="4" dy="-18" font-size="28">+</tspan></text>
<text x="2922" y="1341">Tl<tspan dx="4" dy="-18" font-size="28">+</tspan></text>
</g>

<g font-weight="bold" fill="#333" text-anchor="middle">
<text x="210" y="1458" font-size="38">Δ<tspan font-style="italic">H</tspan></text>
<text x="210" y="1500" font-size="33">(&gt;0 meV/atom)</text>
<text x="210" y="1619" font-size="36">Band Gap</text>
<text x="210" y="1667" font-size="33">(0.8~2.0 eV)</text>
<text x="210" y="1777" font-size="36">m<tspan font-size="22" dy="8">e</tspan><tspan dy="-8">, m</tspan><tspan font-size="22" dy="8">h</tspan></text>
<text x="210" y="1832" font-size="33">(|m| &lt; 1.0 m<tspan font-size="20" dy="6">0</tspan><tspan dy="-6">)</tspan></text>
<text x="210" y="1937" font-size="38">Δ<tspan font-style="italic">E</tspan><tspan font-size="22" dy="8">b</tspan></text>
<text x="210" y="1980" font-size="33">(&lt;100 meV)</text>
</g>
<g font-size="26" font-weight="bold" fill="#333" text-anchor="middle">
<text x="193" y="1760">*</text><text x="258" y="1760">*</text>
</g>
<g font-size="34" font-weight="bold" fill="#111" text-anchor="middle">
<text x="210" y="2104">Promising</text>
<text x="210" y="2140">Compounds</text>
</g>

<!-- ================= LEGEND ================= -->
<g font-size="32" font-weight="bold" fill="#333" text-anchor="middle">
<text x="3300" y="1693">F</text><text x="3395" y="1693">Cl</text><text x="3484" y="1693">Br</text><text x="3553" y="1693">I</text>
</g>
<g font-size="34" font-weight="bold" fill="#333">
<text x="3168" y="1755">Sb</text><text x="3168" y="1832">Bi</text>
</g>
<rect x="3267" y="1707" width="78" height="66" fill="#0a8a48"/>
<rect x="3354" y="1707" width="77" height="66" fill="#f41c10"/>
<rect x="3438" y="1707" width="79" height="66" fill="#0a8a48"/>
<rect x="3523" y="1707" width="80" height="66" fill="#f41c10"/>
<rect x="3267" y="1779" width="78" height="68" fill="#0a8a48"/>
<rect x="3354" y="1779" width="77" height="68" fill="#0a8a48"/>
<rect x="3438" y="1779" width="79" height="68" fill="#f41c10"/>
<rect x="3523" y="1779" width="80" height="68" fill="#0a8a48"/>

<use href="#ck" transform="translate(3198,1908) scale(1.25)"/>
<rect x="3200" y="1992" width="78" height="64" fill="#f41c10"/>
<rect x="3200" y="2068" width="78" height="65" fill="#0a8a48"/>
<g font-size="38" font-weight="bold" fill="#333">
<text x="3298" y="1957">Optimal</text>
<text x="3298" y="2037">Selected</text>
<text x="3298" y="2113">Abandoned</text>
</g>
</svg>
</body></html>
